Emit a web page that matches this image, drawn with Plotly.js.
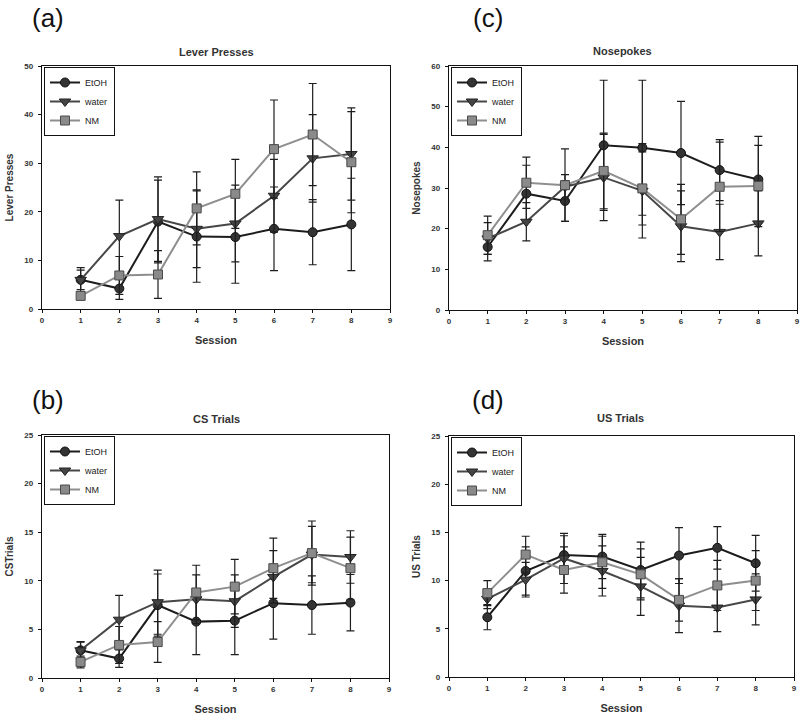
<!DOCTYPE html>
<html>
<head>
<meta charset="utf-8">
<script src="https://cdn.plot.ly/plotly-3.0.1.min.js"></script>
<style>
  html, body { margin: 0; padding: 0; background: #fff; }
  #chart { width: 800px; height: 722px; }
</style>
</head>
<body>
<div id="chart"></div>
<script>
// sessions shared by all four panels
const sessions = [1, 2, 3, 4, 5, 6, 7, 8];
const groups = ["EtOH", "water", "NM"];

// (a) Lever Presses
const leverEtOH = [6.0, 4.2, 18.0, 14.9, 14.8, 16.5, 15.8, 17.4];
const leverWater = [6.0, 15.0, 18.5, 16.5, 17.6, 23.3, 31.0, 31.9];
const leverNM = [2.7, 6.9, 7.1, 20.7, 23.7, 32.9, 35.9, 30.2];
const leverEtOHErr = [2.5, 2.2, 8.5, 9.4, 9.5, 8.6, 6.7, 9.5];
const leverWaterErr = [2.0, 7.4, 8.7, 8.0, 7.9, 7.5, 9.0, 9.5];
const leverNMErr = [0.8, 3.9, 4.9, 7.5, 7.1, 10.1, 10.5, 10.4];

// (c) Nosepokes
const nosepokeEtOH = [15.5, 28.6, 26.8, 40.5, 39.9, 38.6, 34.4, 32.1];
const nosepokeWater = [17.6, 21.7, 30.3, 32.6, 29.3, 20.6, 19.2, 21.3];
const nosepokeNM = [18.4, 31.3, 30.7, 34.2, 29.9, 22.3, 30.3, 30.5];
const nosepokeEtOHErr = [3.4, 7.0, 5.0, 16.0, 16.6, 12.7, 7.5, 10.6];
const nosepokeWaterErr = [3.9, 4.7, 3.0, 10.6, 11.6, 8.7, 6.8, 8.0];
const nosepokeNMErr = [4.7, 6.3, 8.9, 9.3, 9.0, 8.6, 11.0, 10.0];

// (b) CS Trials
const csEtOH = [2.85, 2.0, 7.5, 5.8, 5.9, 7.7, 7.5, 7.75];
const csWater = [2.85, 6.0, 7.8, 8.1, 7.9, 10.4, 12.7, 12.45];
const csNM = [1.65, 3.4, 3.7, 8.8, 9.4, 11.3, 12.85, 11.3];
const csEtOHErr = [0.85, 0.9, 3.2, 3.4, 3.5, 3.7, 3.0, 2.9];
const csWaterErr = [0.9, 2.5, 3.3, 2.5, 2.7, 2.7, 2.9, 2.7];
const csNMErr = [0.6, 1.9, 2.1, 2.8, 2.8, 3.1, 3.3, 3.2];

// (d) US Trials
const usEtOH = [6.2, 11.0, 12.65, 12.5, 11.1, 12.6, 13.4, 11.8];
const usWater = [8.1, 10.1, 12.3, 11.0, 9.4, 7.4, 7.2, 8.05];
const usNM = [8.7, 12.7, 11.1, 11.9, 10.65, 8.0, 9.5, 10.0];
const usEtOHErr = [1.3, 2.5, 2.0, 2.3, 2.9, 2.9, 2.2, 2.9];
const usWaterErr = [1.0, 1.8, 2.6, 2.6, 3.0, 2.8, 2.5, 2.65];
const usNMErr = [1.3, 1.9, 2.4, 2.7, 2.65, 2.2, 2.6, 3.1];

const styles = {
    EtOH: { line: "#1c1c1c", fill: "#333333", edge: "#111111", symbol: "circle", size: 9 },
    water: { line: "#474747", fill: "#444444", edge: "#222222", symbol: "triangle-down", size: 10 },
    NM: { line: "#8e8e8e", fill: "#8a8a8a", edge: "#4a4a4a", symbol: "square", size: 9 }
};

const panels = [
    { key: "", yTitle: "Lever Presses", yMax: 50, dtick: 10, series: [leverEtOH, leverWater, leverNM], errs: [leverEtOHErr, leverWaterErr, leverNMErr] },
    { key: "2", yTitle: "Nosepokes", yMax: 60, dtick: 10, series: [nosepokeEtOH, nosepokeWater, nosepokeNM], errs: [nosepokeEtOHErr, nosepokeWaterErr, nosepokeNMErr] },
    { key: "3", yTitle: "CSTrials", yMax: 25, dtick: 5, series: [csEtOH, csWater, csNM], errs: [csEtOHErr, csWaterErr, csNMErr] },
    { key: "4", yTitle: "US Trials", yMax: 25, dtick: 5, series: [usEtOH, usWater, usNM], errs: [usEtOHErr, usWaterErr, usNMErr] }
];

// plot areas in pixels: [left, right, top, bottom]
const boxes = [
    [42, 390, 66, 309],
    [449, 797, 66, 310],
    [42, 389, 435, 678],
    [449, 794, 436, 677]
];
const W = 800, H = 722;

const traces = [];
const layout = {
    width: W,
    height: H,
    margin: { l: 0, r: 0, t: 0, b: 0 },
    paper_bgcolor: "#fff",
    plot_bgcolor: "#fff",
    font: { family: "Liberation Sans, Arial, sans-serif", color: "#222" },
    showlegend: true,
    annotations: []
};

panels.forEach((p, i) => {
    const [l, r, t, b] = boxes[i];
    const xa = "xaxis" + p.key, ya = "yaxis" + p.key;
    const legendName = "legend" + p.key;

    p.series.forEach((vals, j) => {
        const g = groups[j];
        const s = styles[g];
        traces.push({
            x: sessions,
            y: vals,
            name: g,
            type: "scatter",
            mode: "lines+markers",
            xaxis: "x" + p.key,
            yaxis: "y" + p.key,
            legend: legendName,
            line: { color: s.line, width: 2 },
            marker: { symbol: s.symbol, size: s.size, color: s.fill, line: { color: s.edge, width: 1 } },
            error_y: { type: "data", array: p.errs[j], visible: true, color: "#1e1e1e", thickness: 1.2, width: 4 }
        });
    });

    const axisCommon = {
        showline: true,
        mirror: true,
        linecolor: "#111",
        linewidth: 1.2,
        ticks: "outside",
        ticklen: 3,
        tickcolor: "#111",
        showgrid: false,
        zeroline: false,
        tickfont: { size: 8, color: "#333", weight: "bold" }
    };

    layout[xa] = Object.assign({}, axisCommon, {
        domain: [l / W, r / W],
        anchor: "y" + p.key,
        range: [0, 9],
        dtick: 1,
        title: { text: "Session", font: { size: 11, color: "#333", weight: "bold" }, standoff: 12 }
    });
    layout[ya] = Object.assign({}, axisCommon, {
        domain: [1 - b / H, 1 - t / H],
        anchor: "x" + p.key,
        range: [0, p.yMax],
        dtick: p.dtick,
        ticklabelstandoff: 3,
        title: { text: p.yTitle, font: { size: 10, color: "#333", weight: "bold" }, standoff: 8 }
    });

    layout[legendName] = {
        x: (l + 2) / W,
        y: 1 - (t + 1) / H,
        xanchor: "left",
        yanchor: "top",
        bgcolor: "#fff",
        bordercolor: "#111",
        borderwidth: 1,
        font: { size: 9, color: "#222" },
        tracegroupgap: 0,
        itemwidth: 30
    };
});

// panel letters and panel titles
const titles = ["Lever Presses", "Nosepokes", "CS Trials", "US Trials"];
const letters = ["(a)", "(c)", "(b)", "(d)"];
const titleCentres = [[216, 52], [622, 51], [216, 419], [620, 418]];
const letterPos = [[48, 18], [488, 18], [48, 400], [488, 400]];

titles.forEach((txt, i) => {
    layout.annotations.push({
        text: "<b>" + txt + "</b>",
        xref: "paper", yref: "paper",
        x: titleCentres[i][0] / W, y: 1 - titleCentres[i][1] / H,
        xanchor: "center", yanchor: "middle",
        showarrow: false,
        font: { size: 11, color: "#333" }
    });
    layout.annotations.push({
        text: letters[i],
        xref: "paper", yref: "paper",
        x: letterPos[i][0] / W, y: 1 - letterPos[i][1] / H,
        xanchor: "center", yanchor: "middle",
        showarrow: false,
        font: { size: 26, color: "#111" }
    });
});

Plotly.newPlot("chart", traces, layout, { staticPlot: true });
</script>
</body>
</html>
